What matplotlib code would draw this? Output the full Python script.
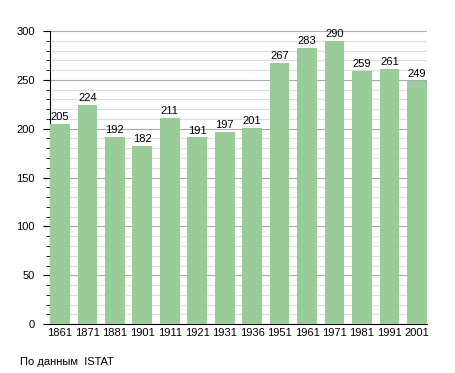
import matplotlib.pyplot as plt
from matplotlib.ticker import MultipleLocator

years = ["1861", "1871", "1881", "1901", "1911", "1921", "1931", "1936",
         "1951", "1961", "1971", "1981", "1991", "2001"]
population = [205, 224, 192, 182, 211, 191, 197, 201, 267, 283, 290, 259, 261, 249]

plt.rcParams['font.family'] = ['Liberation Sans', 'DejaVu Sans']

fig = plt.figure(figsize=(4.55, 3.73), dpi=100)
ax = fig.add_axes([0.110, 0.131, 0.828, 0.786])

n = len(years)
width = 0.72
x = list(range(n))
ax.bar(x, population, width=width, color="#99cc99", zorder=3)

# value labels above each bar
for xi, v in zip(x, population):
    ax.text(xi, v + 2, str(v), ha="center", va="bottom", fontsize=8, zorder=4)

ax.set_xlim(-width / 2, n - 1 + width / 2)
ax.set_ylim(0, 300)
ax.set_xticks(x)
ax.set_xticklabels(years, fontsize=8)
ax.tick_params(axis="x", length=0, pad=3)

ax.yaxis.set_major_locator(MultipleLocator(50))
ax.yaxis.set_minor_locator(MultipleLocator(10))
ax.tick_params(axis="y", which="major", length=5, labelsize=8, pad=6)
ax.tick_params(axis="y", which="minor", length=3)

ax.grid(axis="y", which="minor", color="#dddddd", linewidth=0.8, zorder=0)
ax.grid(axis="y", which="major", color="#aaaaaa", linewidth=0.8, zorder=0)

ax.spines["top"].set_visible(False)
ax.spines["right"].set_visible(False)

fig.text(20 / 455, 1 - 362 / 373, "По данным  ISTAT", fontsize=8, va="center")

fig.savefig("out.png", dpi=100)
